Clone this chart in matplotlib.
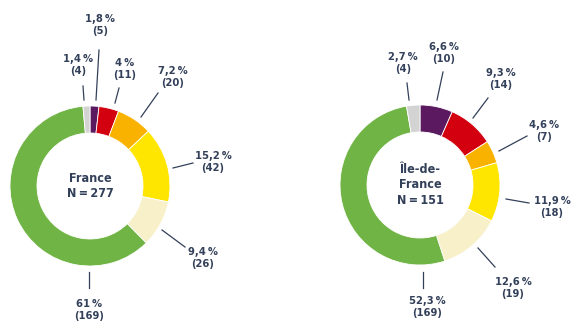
import matplotlib.pyplot as plt

# data
categories = ['purple', 'red', 'orange', 'yellow', 'cream', 'green', 'grey']
colors = ['#5b1a5f', '#d3000f', '#f9b200', '#ffe600', '#f8f0c9', '#71b446', '#d3d3d3']

france_pct = [1.8, 4.0, 7.2, 15.2, 9.4, 61.0, 1.4]
france_n = [5, 11, 20, 42, 26, 169, 4]
idf_pct = [6.6, 9.3, 4.6, 11.9, 12.6, 52.3, 2.7]
idf_n = [10, 14, 7, 18, 19, 169, 4]

france_title = 'France\nN\u2009=\u2009277'
idf_title = 'Île-de-\nFrance\nN\u2009=\u2009151'

# layout (pixel coordinates): text centre, line start, line end
france_layout = [
    ((100, 25), (96, 100), (99, 50)),
    ((125, 69), (115, 103), (119, 88)),
    ((173, 77), (141, 117), (158, 93)),
    ((213, 162), (173, 168), (193, 163)),
    ((203, 258), (162, 230), (185, 247)),
    ((89, 310), (89, 272), (89, 288)),
    ((78, 65), (84, 100), (83, 86)),
]
idf_layout = [
    ((444, 53), (437, 100), (443, 72)),
    ((501, 79), (473, 118), (488, 98)),
    ((544, 131), (499, 151), (527, 136)),
    ((552, 207), (506, 199), (529, 203)),
    ((513, 288), (478, 248), (495, 267)),
    ((427, 307), (423, 272), (423, 288)),
    ((403, 63), (409, 100), (407, 83)),
]

txt_color = '#33405a'
font = ['DejaVu Sans']

fig = plt.figure(figsize=(5.8, 3.35), dpi=100)
ax = fig.add_axes([0, 0, 1, 1])


def donut(center, pct, counts, layout, title):
    ax.pie(pct, colors=colors, center=center, radius=80, startangle=-90,
           counterclock=True,
           wedgeprops=dict(width=27, edgecolor='white', linewidth=0.6))
    ax.text(center[0], center[1], title, ha='center', va='center',
            fontsize=9, fontweight='bold', color=txt_color, family=font,
            fontstretch='condensed', linespacing=1.25)
    for p, n, (tpos, l0, l1) in zip(pct, counts, layout):
        lab = (f'{p:.1f}'.rstrip('0').rstrip('.')).replace('.', ',') + '\u2009%'
        ax.plot([l0[0], l1[0]], [l0[1], l1[1]], color=txt_color, lw=0.9)
        ax.text(tpos[0], tpos[1], f'{lab}\n({n})', ha='center', va='center',
                fontsize=8, fontweight='bold', color=txt_color, family=font,
                fontstretch='condensed', linespacing=1.35)


donut((90, 186), france_pct, france_n, france_layout, france_title)
donut((420, 185), idf_pct, idf_n, idf_layout, idf_title)

ax.set_xlim(0, 580)
ax.set_ylim(335, 0)
ax.set_aspect('equal')
ax.axis('off')

fig.savefig('out.png', dpi=100, facecolor='white')
